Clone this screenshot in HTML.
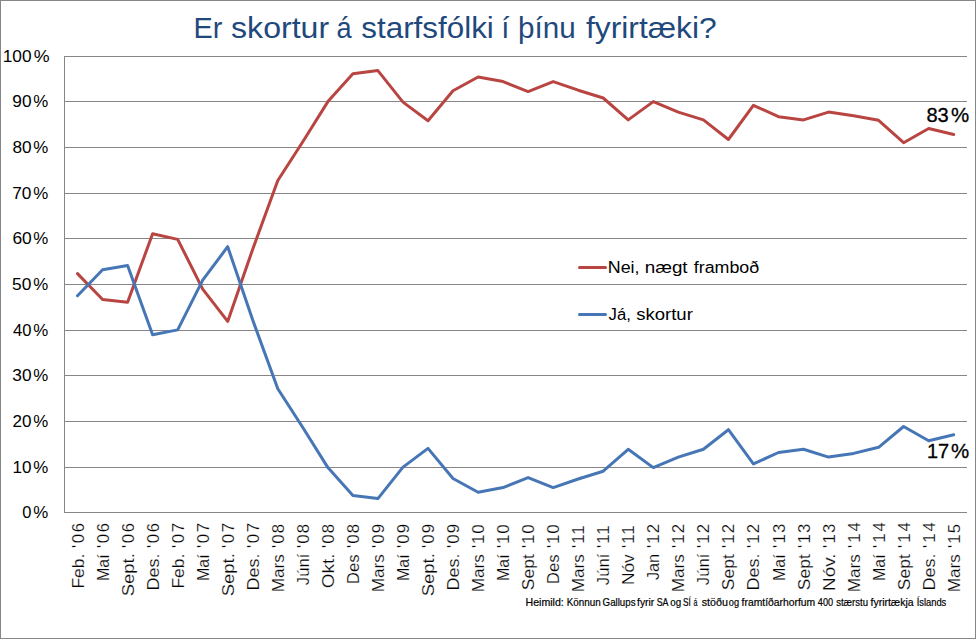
<!DOCTYPE html>
<html><head><meta charset="utf-8"><title>Er skortur á starfsfólki í þínu fyrirtæki?</title>
<style>
html,body{margin:0;padding:0;background:#fff;}
svg{display:block;}
text{font-family:"Liberation Sans",sans-serif;}
</style></head><body>
<svg width="976" height="639" viewBox="0 0 976 639">
<rect x="0" y="0" width="976" height="639" fill="#ffffff"/>
<rect x="0.5" y="0.5" width="975" height="638" fill="none" stroke="#868686" stroke-width="1"/>

<g stroke="#868686" stroke-width="1" shape-rendering="crispEdges">
<line x1="64" y1="512.5" x2="967" y2="512.5"/>
<line x1="64" y1="467.5" x2="967" y2="467.5"/>
<line x1="64" y1="421.5" x2="967" y2="421.5"/>
<line x1="64" y1="375.5" x2="967" y2="375.5"/>
<line x1="64" y1="330.5" x2="967" y2="330.5"/>
<line x1="64" y1="284.5" x2="967" y2="284.5"/>
<line x1="64" y1="238.5" x2="967" y2="238.5"/>
<line x1="64" y1="193.5" x2="967" y2="193.5"/>
<line x1="64" y1="147.5" x2="967" y2="147.5"/>
<line x1="64" y1="101.5" x2="967" y2="101.5"/>
<line x1="64" y1="56.5" x2="967" y2="56.5"/>
<line x1="64.5" y1="56" x2="64.5" y2="513"/>
</g>
<polyline points="77.5,273.6 102.6,299.5 127.6,302.3 152.6,233.7 177.7,239.4 202.7,289.1 227.7,321.4 252.8,248.9 277.8,180.5 302.8,141.8 327.9,101.6 352.9,73.8 377.9,70.6 403.0,102.1 428.0,120.8 453.0,90.7 478.1,77.0 503.1,81.6 528.1,91.6 553.2,81.6 578.2,90.2 603.2,98.0 628.2,119.9 653.3,101.6 678.3,112.1 703.4,119.9 728.4,139.5 753.4,105.3 778.5,116.7 803.5,119.9 828.5,112.1 853.6,115.8 878.6,120.3 903.6,142.7 928.7,128.5 953.7,134.5" fill="none" stroke="#B84542" stroke-width="3" stroke-linejoin="round" stroke-linecap="round"/>
<polyline points="77.5,295.7 102.6,269.7 127.6,265.6 152.6,334.7 177.7,329.9 202.7,280.2 227.7,246.7 252.8,320.3 277.8,388.7 302.8,427.5 327.9,467.6 352.9,495.4 377.9,498.6 403.0,467.1 428.0,448.4 453.0,478.5 478.1,492.2 503.1,487.6 528.1,477.6 553.2,487.6 578.2,479.0 603.2,471.2 628.2,449.3 653.3,467.6 678.3,457.1 703.4,449.3 728.4,429.7 753.4,463.9 778.5,452.5 803.5,449.3 828.5,457.1 853.6,453.4 878.6,447.3 903.6,426.5 928.7,440.7 953.7,434.8" fill="none" stroke="#4676B5" stroke-width="3" stroke-linejoin="round" stroke-linecap="round"/>
<g font-size="16.8" fill="#000" text-anchor="end" stroke="#fff" stroke-width="0.2">
<text transform="translate(83.5,523.00) rotate(-90)" textLength="25.08" lengthAdjust="spacing">'06</text>
<text transform="translate(83.5,553.67) rotate(-90)" textLength="34.92" lengthAdjust="spacingAndGlyphs">Feb.</text>
<text transform="translate(108.6,523.00) rotate(-90)" textLength="25.08" lengthAdjust="spacing">'06</text>
<text transform="translate(108.6,554.31) rotate(-90)" textLength="26.71" lengthAdjust="spacingAndGlyphs">Maí</text>
<text transform="translate(133.6,523.00) rotate(-90)" textLength="25.08" lengthAdjust="spacing">'06</text>
<text transform="translate(133.6,553.26) rotate(-90)" textLength="43.01" lengthAdjust="spacingAndGlyphs">Sept.</text>
<text transform="translate(158.6,523.00) rotate(-90)" textLength="25.08" lengthAdjust="spacing">'06</text>
<text transform="translate(158.6,553.51) rotate(-90)" textLength="37.08" lengthAdjust="spacingAndGlyphs">Des.</text>
<text transform="translate(183.7,523.00) rotate(-90)" textLength="25.08" lengthAdjust="spacing">'07</text>
<text transform="translate(183.7,553.67) rotate(-90)" textLength="34.92" lengthAdjust="spacingAndGlyphs">Feb.</text>
<text transform="translate(208.7,523.00) rotate(-90)" textLength="25.08" lengthAdjust="spacing">'07</text>
<text transform="translate(208.7,554.31) rotate(-90)" textLength="26.71" lengthAdjust="spacingAndGlyphs">Maí</text>
<text transform="translate(233.7,523.00) rotate(-90)" textLength="25.08" lengthAdjust="spacing">'07</text>
<text transform="translate(233.7,553.26) rotate(-90)" textLength="43.01" lengthAdjust="spacingAndGlyphs">Sept.</text>
<text transform="translate(258.8,523.00) rotate(-90)" textLength="25.08" lengthAdjust="spacing">'07</text>
<text transform="translate(258.8,553.51) rotate(-90)" textLength="37.08" lengthAdjust="spacingAndGlyphs">Des.</text>
<text transform="translate(283.8,523.86) rotate(-90)" textLength="24.22" lengthAdjust="spacing">'08</text>
<text transform="translate(283.8,554.23) rotate(-90)" textLength="38.15" lengthAdjust="spacingAndGlyphs">Mars</text>
<text transform="translate(308.8,523.86) rotate(-90)" textLength="24.22" lengthAdjust="spacing">'08</text>
<text transform="translate(308.8,553.64) rotate(-90)" textLength="31.55" lengthAdjust="spacingAndGlyphs">Júní</text>
<text transform="translate(333.9,523.86) rotate(-90)" textLength="24.22" lengthAdjust="spacing">'08</text>
<text transform="translate(333.9,553.41) rotate(-90)" textLength="34.72" lengthAdjust="spacingAndGlyphs">Okt.</text>
<text transform="translate(358.9,523.86) rotate(-90)" textLength="24.22" lengthAdjust="spacing">'08</text>
<text transform="translate(358.9,554.24) rotate(-90)" textLength="29.94" lengthAdjust="spacingAndGlyphs">Des</text>
<text transform="translate(383.9,523.91) rotate(-90)" textLength="24.18" lengthAdjust="spacing">'09</text>
<text transform="translate(383.9,554.23) rotate(-90)" textLength="38.15" lengthAdjust="spacingAndGlyphs">Mars</text>
<text transform="translate(409.0,523.91) rotate(-90)" textLength="24.18" lengthAdjust="spacing">'09</text>
<text transform="translate(409.0,554.31) rotate(-90)" textLength="26.71" lengthAdjust="spacingAndGlyphs">Maí</text>
<text transform="translate(434.0,523.91) rotate(-90)" textLength="24.18" lengthAdjust="spacing">'09</text>
<text transform="translate(434.0,553.26) rotate(-90)" textLength="43.01" lengthAdjust="spacingAndGlyphs">Sept.</text>
<text transform="translate(459.0,523.91) rotate(-90)" textLength="24.18" lengthAdjust="spacing">'09</text>
<text transform="translate(459.0,553.51) rotate(-90)" textLength="37.08" lengthAdjust="spacingAndGlyphs">Des.</text>
<text transform="translate(484.1,524.47) rotate(-90)" textLength="23.62" lengthAdjust="spacing">'10</text>
<text transform="translate(484.1,554.23) rotate(-90)" textLength="38.15" lengthAdjust="spacingAndGlyphs">Mars</text>
<text transform="translate(509.1,524.47) rotate(-90)" textLength="23.62" lengthAdjust="spacing">'10</text>
<text transform="translate(509.1,554.31) rotate(-90)" textLength="26.71" lengthAdjust="spacingAndGlyphs">Maí</text>
<text transform="translate(534.1,524.47) rotate(-90)" textLength="23.62" lengthAdjust="spacing">'10</text>
<text transform="translate(534.1,554.24) rotate(-90)" textLength="35.95" lengthAdjust="spacingAndGlyphs">Sept</text>
<text transform="translate(559.2,524.47) rotate(-90)" textLength="23.62" lengthAdjust="spacing">'10</text>
<text transform="translate(559.2,554.24) rotate(-90)" textLength="29.94" lengthAdjust="spacingAndGlyphs">Des</text>
<text transform="translate(584.2,525.37) rotate(-90)" textLength="22.72" lengthAdjust="spacing">'11</text>
<text transform="translate(584.2,554.23) rotate(-90)" textLength="38.15" lengthAdjust="spacingAndGlyphs">Mars</text>
<text transform="translate(609.2,525.37) rotate(-90)" textLength="22.72" lengthAdjust="spacing">'11</text>
<text transform="translate(609.2,553.64) rotate(-90)" textLength="31.55" lengthAdjust="spacingAndGlyphs">Júní</text>
<text transform="translate(634.2,525.37) rotate(-90)" textLength="22.72" lengthAdjust="spacing">'11</text>
<text transform="translate(634.2,554.24) rotate(-90)" textLength="30.74" lengthAdjust="spacingAndGlyphs">Nóv</text>
<text transform="translate(659.3,524.00) rotate(-90)" textLength="24.08" lengthAdjust="spacing">'12</text>
<text transform="translate(659.3,553.89) rotate(-90)" textLength="26.21" lengthAdjust="spacingAndGlyphs">Jan</text>
<text transform="translate(684.3,524.00) rotate(-90)" textLength="24.08" lengthAdjust="spacing">'12</text>
<text transform="translate(684.3,554.23) rotate(-90)" textLength="38.15" lengthAdjust="spacingAndGlyphs">Mars</text>
<text transform="translate(709.4,524.00) rotate(-90)" textLength="24.08" lengthAdjust="spacing">'12</text>
<text transform="translate(709.4,553.64) rotate(-90)" textLength="31.55" lengthAdjust="spacingAndGlyphs">Júní</text>
<text transform="translate(734.4,524.00) rotate(-90)" textLength="24.08" lengthAdjust="spacing">'12</text>
<text transform="translate(734.4,554.24) rotate(-90)" textLength="35.95" lengthAdjust="spacingAndGlyphs">Sept</text>
<text transform="translate(759.4,524.00) rotate(-90)" textLength="24.08" lengthAdjust="spacing">'12</text>
<text transform="translate(759.4,553.51) rotate(-90)" textLength="37.08" lengthAdjust="spacingAndGlyphs">Des.</text>
<text transform="translate(784.5,523.61) rotate(-90)" textLength="24.48" lengthAdjust="spacing">'13</text>
<text transform="translate(784.5,554.31) rotate(-90)" textLength="26.71" lengthAdjust="spacingAndGlyphs">Maí</text>
<text transform="translate(809.5,523.61) rotate(-90)" textLength="24.48" lengthAdjust="spacing">'13</text>
<text transform="translate(809.5,554.24) rotate(-90)" textLength="35.95" lengthAdjust="spacingAndGlyphs">Sept</text>
<text transform="translate(834.5,523.61) rotate(-90)" textLength="24.48" lengthAdjust="spacing">'13</text>
<text transform="translate(834.5,553.47) rotate(-90)" textLength="37.49" lengthAdjust="spacingAndGlyphs">Nóv.</text>
<text transform="translate(859.6,522.14) rotate(-90)" textLength="25.94" lengthAdjust="spacing">'14</text>
<text transform="translate(859.6,554.23) rotate(-90)" textLength="38.15" lengthAdjust="spacingAndGlyphs">Mars</text>
<text transform="translate(884.6,522.14) rotate(-90)" textLength="25.94" lengthAdjust="spacing">'14</text>
<text transform="translate(884.6,554.31) rotate(-90)" textLength="26.71" lengthAdjust="spacingAndGlyphs">Maí</text>
<text transform="translate(909.6,522.14) rotate(-90)" textLength="25.94" lengthAdjust="spacing">'14</text>
<text transform="translate(909.6,554.24) rotate(-90)" textLength="35.95" lengthAdjust="spacingAndGlyphs">Sept</text>
<text transform="translate(934.7,522.14) rotate(-90)" textLength="25.94" lengthAdjust="spacing">'14</text>
<text transform="translate(934.7,553.51) rotate(-90)" textLength="37.08" lengthAdjust="spacingAndGlyphs">Des.</text>
<text transform="translate(959.7,523.86) rotate(-90)" textLength="24.22" lengthAdjust="spacing">'15</text>
<text transform="translate(959.7,554.23) rotate(-90)" textLength="38.15" lengthAdjust="spacingAndGlyphs">Mars</text>
</g>
<line x1="579.5" y1="267.5" x2="605.5" y2="267.5" stroke="#B84542" stroke-width="3" stroke-linecap="round"/>
<line x1="579.5" y1="314.5" x2="605.5" y2="314.5" stroke="#4676B5" stroke-width="3" stroke-linecap="round"/>
<text x="193.60" y="37.8" font-size="29.5" fill="#1F497D" textLength="28.86" lengthAdjust="spacingAndGlyphs">Er</text>
<text x="231.09" y="37.8" font-size="29.5" fill="#1F497D" textLength="98.07" lengthAdjust="spacingAndGlyphs">skortur</text>
<text x="344.05" y="37.8" font-size="29.5" fill="#1F497D" text-anchor="middle" transform="translate(344.05,0) scale(0.92,1) translate(-344.05,0)">á</text>
<text x="361.25" y="37.8" font-size="29.5" fill="#1F497D" textLength="132.59" lengthAdjust="spacingAndGlyphs">starfsfólki</text>
<text x="501.29" y="37.8" font-size="29.5" fill="#1F497D" textLength="8.16" lengthAdjust="spacingAndGlyphs">í</text>
<text x="518.08" y="37.8" font-size="29.5" fill="#1F497D" textLength="57.67" lengthAdjust="spacingAndGlyphs">þínu</text>
<text x="585.91" y="37.8" font-size="29.5" fill="#1F497D" textLength="130.88" lengthAdjust="spacingAndGlyphs">fyrirtæki?</text>
<text x="607.80" y="273.0" font-size="16.0" fill="#000" textLength="31.74" lengthAdjust="spacingAndGlyphs">Nei,</text>
<text x="644.70" y="273.0" font-size="16.0" fill="#000" textLength="42.92" lengthAdjust="spacingAndGlyphs">nægt</text>
<text x="693.81" y="273.0" font-size="16.0" fill="#000" textLength="65.38" lengthAdjust="spacingAndGlyphs">framboð</text>
<text x="608.63" y="320.0" font-size="16.0" fill="#000" textLength="22.31" lengthAdjust="spacingAndGlyphs">Já,</text>
<text x="636.20" y="320.0" font-size="16.0" fill="#000" textLength="56.63" lengthAdjust="spacingAndGlyphs">skortur</text>
<text x="926.40" y="122.0" font-size="20.2" fill="#000" stroke="#000" stroke-width="0.3" textLength="22.33" lengthAdjust="spacingAndGlyphs">83</text>
<text x="950.97" y="122.0" font-size="20.2" fill="#000" stroke="#000" stroke-width="0.3" textLength="18.17" lengthAdjust="spacingAndGlyphs">%</text>
<text x="926.92" y="458.0" font-size="20.2" fill="#000" stroke="#000" stroke-width="0.3" textLength="22.21" lengthAdjust="spacingAndGlyphs">17</text>
<text x="950.97" y="458.0" font-size="20.2" fill="#000" stroke="#000" stroke-width="0.3" textLength="18.17" lengthAdjust="spacingAndGlyphs">%</text>
<text x="525.52" y="606.1" font-size="10.4" fill="#000" stroke="#000" stroke-width="0.2" textLength="38.24" lengthAdjust="spacingAndGlyphs">Heimild:</text>
<text x="566.67" y="606.1" font-size="10.4" fill="#000" stroke="#000" stroke-width="0.2" textLength="33.98" lengthAdjust="spacingAndGlyphs">Könnun</text>
<text x="602.58" y="606.1" font-size="10.4" fill="#000" stroke="#000" stroke-width="0.2" textLength="32.96" lengthAdjust="spacingAndGlyphs">Gallups</text>
<text x="637.09" y="606.1" font-size="10.4" fill="#000" stroke="#000" stroke-width="0.2" textLength="17.13" lengthAdjust="spacingAndGlyphs">fyrir</text>
<text x="656.63" y="606.1" font-size="10.4" fill="#000" stroke="#000" stroke-width="0.2" textLength="11.79" lengthAdjust="spacingAndGlyphs">SA</text>
<text x="670.26" y="606.1" font-size="10.4" fill="#000" stroke="#000" stroke-width="0.2" textLength="10.88" lengthAdjust="spacingAndGlyphs">og</text>
<text x="683.08" y="606.1" font-size="10.4" fill="#000" stroke="#000" stroke-width="0.2" textLength="7.79" lengthAdjust="spacingAndGlyphs">SÍ</text>
<text x="693.53" y="606.1" font-size="10.4" fill="#000" stroke="#000" stroke-width="0.2" textLength="3.92" lengthAdjust="spacingAndGlyphs">á</text>
<text x="701.78" y="606.1" font-size="10.4" fill="#000" stroke="#000" stroke-width="0.2" textLength="26.16" lengthAdjust="spacingAndGlyphs">stöðu</text>
<text x="728.81" y="606.1" font-size="10.4" fill="#000" stroke="#000" stroke-width="0.2" textLength="10.25" lengthAdjust="spacingAndGlyphs">og</text>
<text x="741.62" y="606.1" font-size="10.4" fill="#000" stroke="#000" stroke-width="0.2" textLength="73.64" lengthAdjust="spacingAndGlyphs">framtíðarhorfum</text>
<text x="817.86" y="606.1" font-size="10.4" fill="#000" stroke="#000" stroke-width="0.2" textLength="15.26" lengthAdjust="spacingAndGlyphs">400</text>
<text x="836.15" y="606.1" font-size="10.4" fill="#000" stroke="#000" stroke-width="0.2" textLength="31.80" lengthAdjust="spacingAndGlyphs">stærstu</text>
<text x="870.50" y="606.1" font-size="10.4" fill="#000" stroke="#000" stroke-width="0.2" textLength="43.07" lengthAdjust="spacingAndGlyphs">fyrirtækja</text>
<text x="916.64" y="606.1" font-size="10.4" fill="#000" stroke="#000" stroke-width="0.2" textLength="29.69" lengthAdjust="spacingAndGlyphs">Íslands</text>
<text x="22.39" y="517.9" font-size="16.4" fill="#000" textLength="9.18" lengthAdjust="spacingAndGlyphs">0</text>
<text x="33.39" y="517.9" font-size="16.4" fill="#000" textLength="15.00" lengthAdjust="spacingAndGlyphs">%</text>
<text x="12.64" y="472.9" font-size="16.4" fill="#000" textLength="19.00" lengthAdjust="spacingAndGlyphs">10</text>
<text x="33.39" y="472.9" font-size="16.4" fill="#000" textLength="15.00" lengthAdjust="spacingAndGlyphs">%</text>
<text x="12.51" y="426.9" font-size="16.4" fill="#000" textLength="18.99" lengthAdjust="spacingAndGlyphs">20</text>
<text x="33.39" y="426.9" font-size="16.4" fill="#000" textLength="15.00" lengthAdjust="spacingAndGlyphs">%</text>
<text x="12.34" y="380.9" font-size="16.4" fill="#000" textLength="19.23" lengthAdjust="spacingAndGlyphs">30</text>
<text x="33.39" y="380.9" font-size="16.4" fill="#000" textLength="15.00" lengthAdjust="spacingAndGlyphs">%</text>
<text x="13.03" y="335.9" font-size="16.4" fill="#000" textLength="18.43" lengthAdjust="spacingAndGlyphs">40</text>
<text x="33.39" y="335.9" font-size="16.4" fill="#000" textLength="15.00" lengthAdjust="spacingAndGlyphs">%</text>
<text x="12.13" y="289.9" font-size="16.4" fill="#000" textLength="19.30" lengthAdjust="spacingAndGlyphs">50</text>
<text x="33.39" y="289.9" font-size="16.4" fill="#000" textLength="15.00" lengthAdjust="spacingAndGlyphs">%</text>
<text x="12.44" y="243.9" font-size="16.4" fill="#000" textLength="19.37" lengthAdjust="spacingAndGlyphs">60</text>
<text x="33.39" y="243.9" font-size="16.4" fill="#000" textLength="15.00" lengthAdjust="spacingAndGlyphs">%</text>
<text x="12.23" y="198.9" font-size="16.4" fill="#000" textLength="19.27" lengthAdjust="spacingAndGlyphs">70</text>
<text x="33.39" y="198.9" font-size="16.4" fill="#000" textLength="15.00" lengthAdjust="spacingAndGlyphs">%</text>
<text x="12.44" y="152.9" font-size="16.4" fill="#000" textLength="19.16" lengthAdjust="spacingAndGlyphs">80</text>
<text x="33.39" y="152.9" font-size="16.4" fill="#000" textLength="15.00" lengthAdjust="spacingAndGlyphs">%</text>
<text x="12.34" y="106.9" font-size="16.4" fill="#000" textLength="19.23" lengthAdjust="spacingAndGlyphs">90</text>
<text x="33.39" y="106.9" font-size="16.4" fill="#000" textLength="15.00" lengthAdjust="spacingAndGlyphs">%</text>
<text x="2.78" y="61.9" font-size="16.4" fill="#000" textLength="28.83" lengthAdjust="spacingAndGlyphs">100</text>
<text x="33.81" y="61.9" font-size="16.4" fill="#000" textLength="15.85" lengthAdjust="spacingAndGlyphs">%</text>
</svg></body></html>
